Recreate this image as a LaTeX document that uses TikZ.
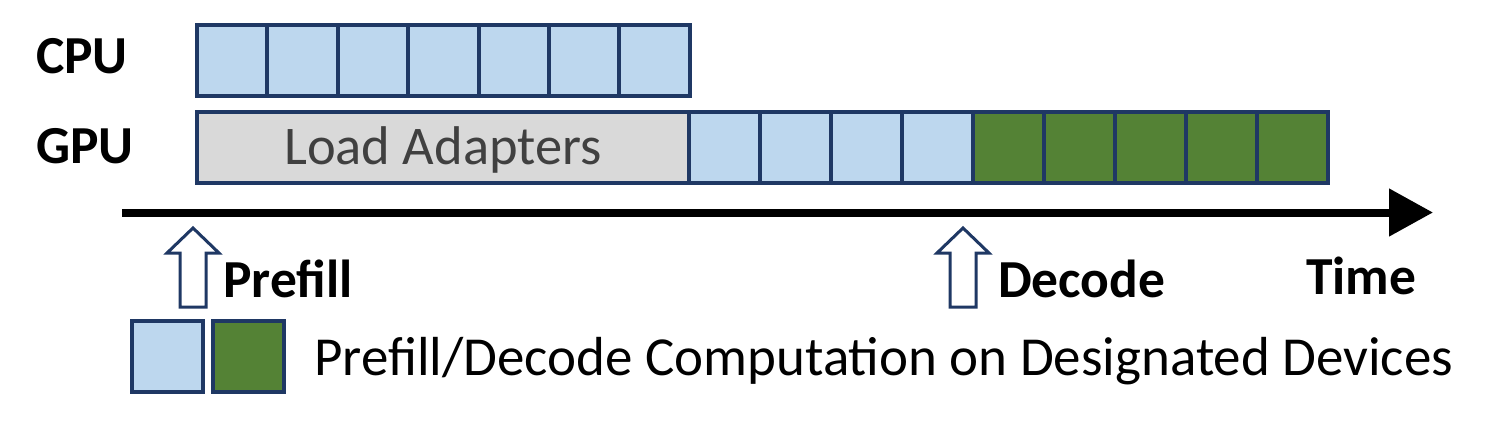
\documentclass[tikz,border=0pt]{standalone}
\usepackage{fontspec}
\setmainfont{Carlito}
\usetikzlibrary{arrows.meta,positioning}
\definecolor{cellnavy}{RGB}{31,56,100}
\definecolor{prefillblue}{RGB}{189,215,238}
\definecolor{decodegreen}{RGB}{84,130,53}
\definecolor{loadgray}{RGB}{217,217,217}
\definecolor{loadtext}{RGB}{64,64,64}

\begin{document}
\begin{tikzpicture}[
    x=1pt,y=-1pt,
    cell/.style={rectangle,draw=cellnavy,line width=4pt,inner sep=0pt,
      minimum width=71pt,minimum height=71pt},
    prefillcell/.style={cell,fill=prefillblue},
    decodecell/.style={cell,fill=decodegreen},
    loadbox/.style={cell,fill=loadgray,minimum width=492pt,text=loadtext,
      text height=35pt,text depth=0pt,font=\fontsize{54.5}{60}\selectfont},
    devlabel/.style={font=\fontsize{53.5}{60}\selectfont\bfseries},
    stagelabel/.style={anchor=base west,inner sep=0pt,font=\fontsize{53.5}{60}\selectfont\bfseries},
    hollowarrow/.style={draw=cellnavy,line width=3pt,fill=white,line join=miter},
    timeaxis/.style={line width=8pt,-{Triangle[length=44pt,width=46pt]}}
  ]
    \useasboundingbox (0,0) rectangle (1495,426);

    % device labels
    \node[devlabel] (cpu) at (82,56) {CPU};
    \node[devlabel] (gpu) at (85,146) {GPU};

    % CPU prefill
    \foreach \i in {1,...,7}
      \node[prefillcell,minimum width=70.4pt] (c\i) at ({197+70.4*(\i-0.5)},60) {};

    % GPU: load, prefill, decode
    \node[loadbox] (load) at (443,147) {Load Adapters};
    \foreach \i in {1,...,4}
      \node[prefillcell] (g\i) at ({689+71*(\i-0.5)},147) {};
    \foreach \i in {1,...,5}
      \node[decodecell] (d\i) at ({973+71*(\i-0.5)},147) {};

    % time axis
    \coordinate (t0) at (122,212.5);
    \coordinate (t1) at (1433,212.5);
    \draw[timeaxis] (t0) -- (t1);
    \node[stagelabel] (time) at (1306,294) {Time};

    % stage markers
    \coordinate (pa) at (193,228);
    \coordinate (da) at (963,228);
    \draw[hollowarrow] (pa) -- ++(26,25) -- ++(-13,0) -- ++(0,54) -- ++(-26,0)
      -- ++(0,-54) -- ++(-13,0) -- cycle;
    \draw[hollowarrow] (da) -- ++(26,25) -- ++(-13,0) -- ++(0,54) -- ++(-26,0)
      -- ++(0,-54) -- ++(-13,0) -- cycle;
    \node[stagelabel] (prefill) at (223,297) {Prefill};
    \node[stagelabel] (decode) at (998,297) {Decode};

    % legend
    \node[prefillcell] (lp) at (167.5,356.5) {};
    \node[decodecell] (ld) at (248,356.5) {};
    \node[anchor=base west,inner sep=0pt,font=\fontsize{55}{60}\selectfont]
      (legend) at (314,375) {Prefill/Decode Computation on Designated Devices};
  \end{tikzpicture}
\end{document}
